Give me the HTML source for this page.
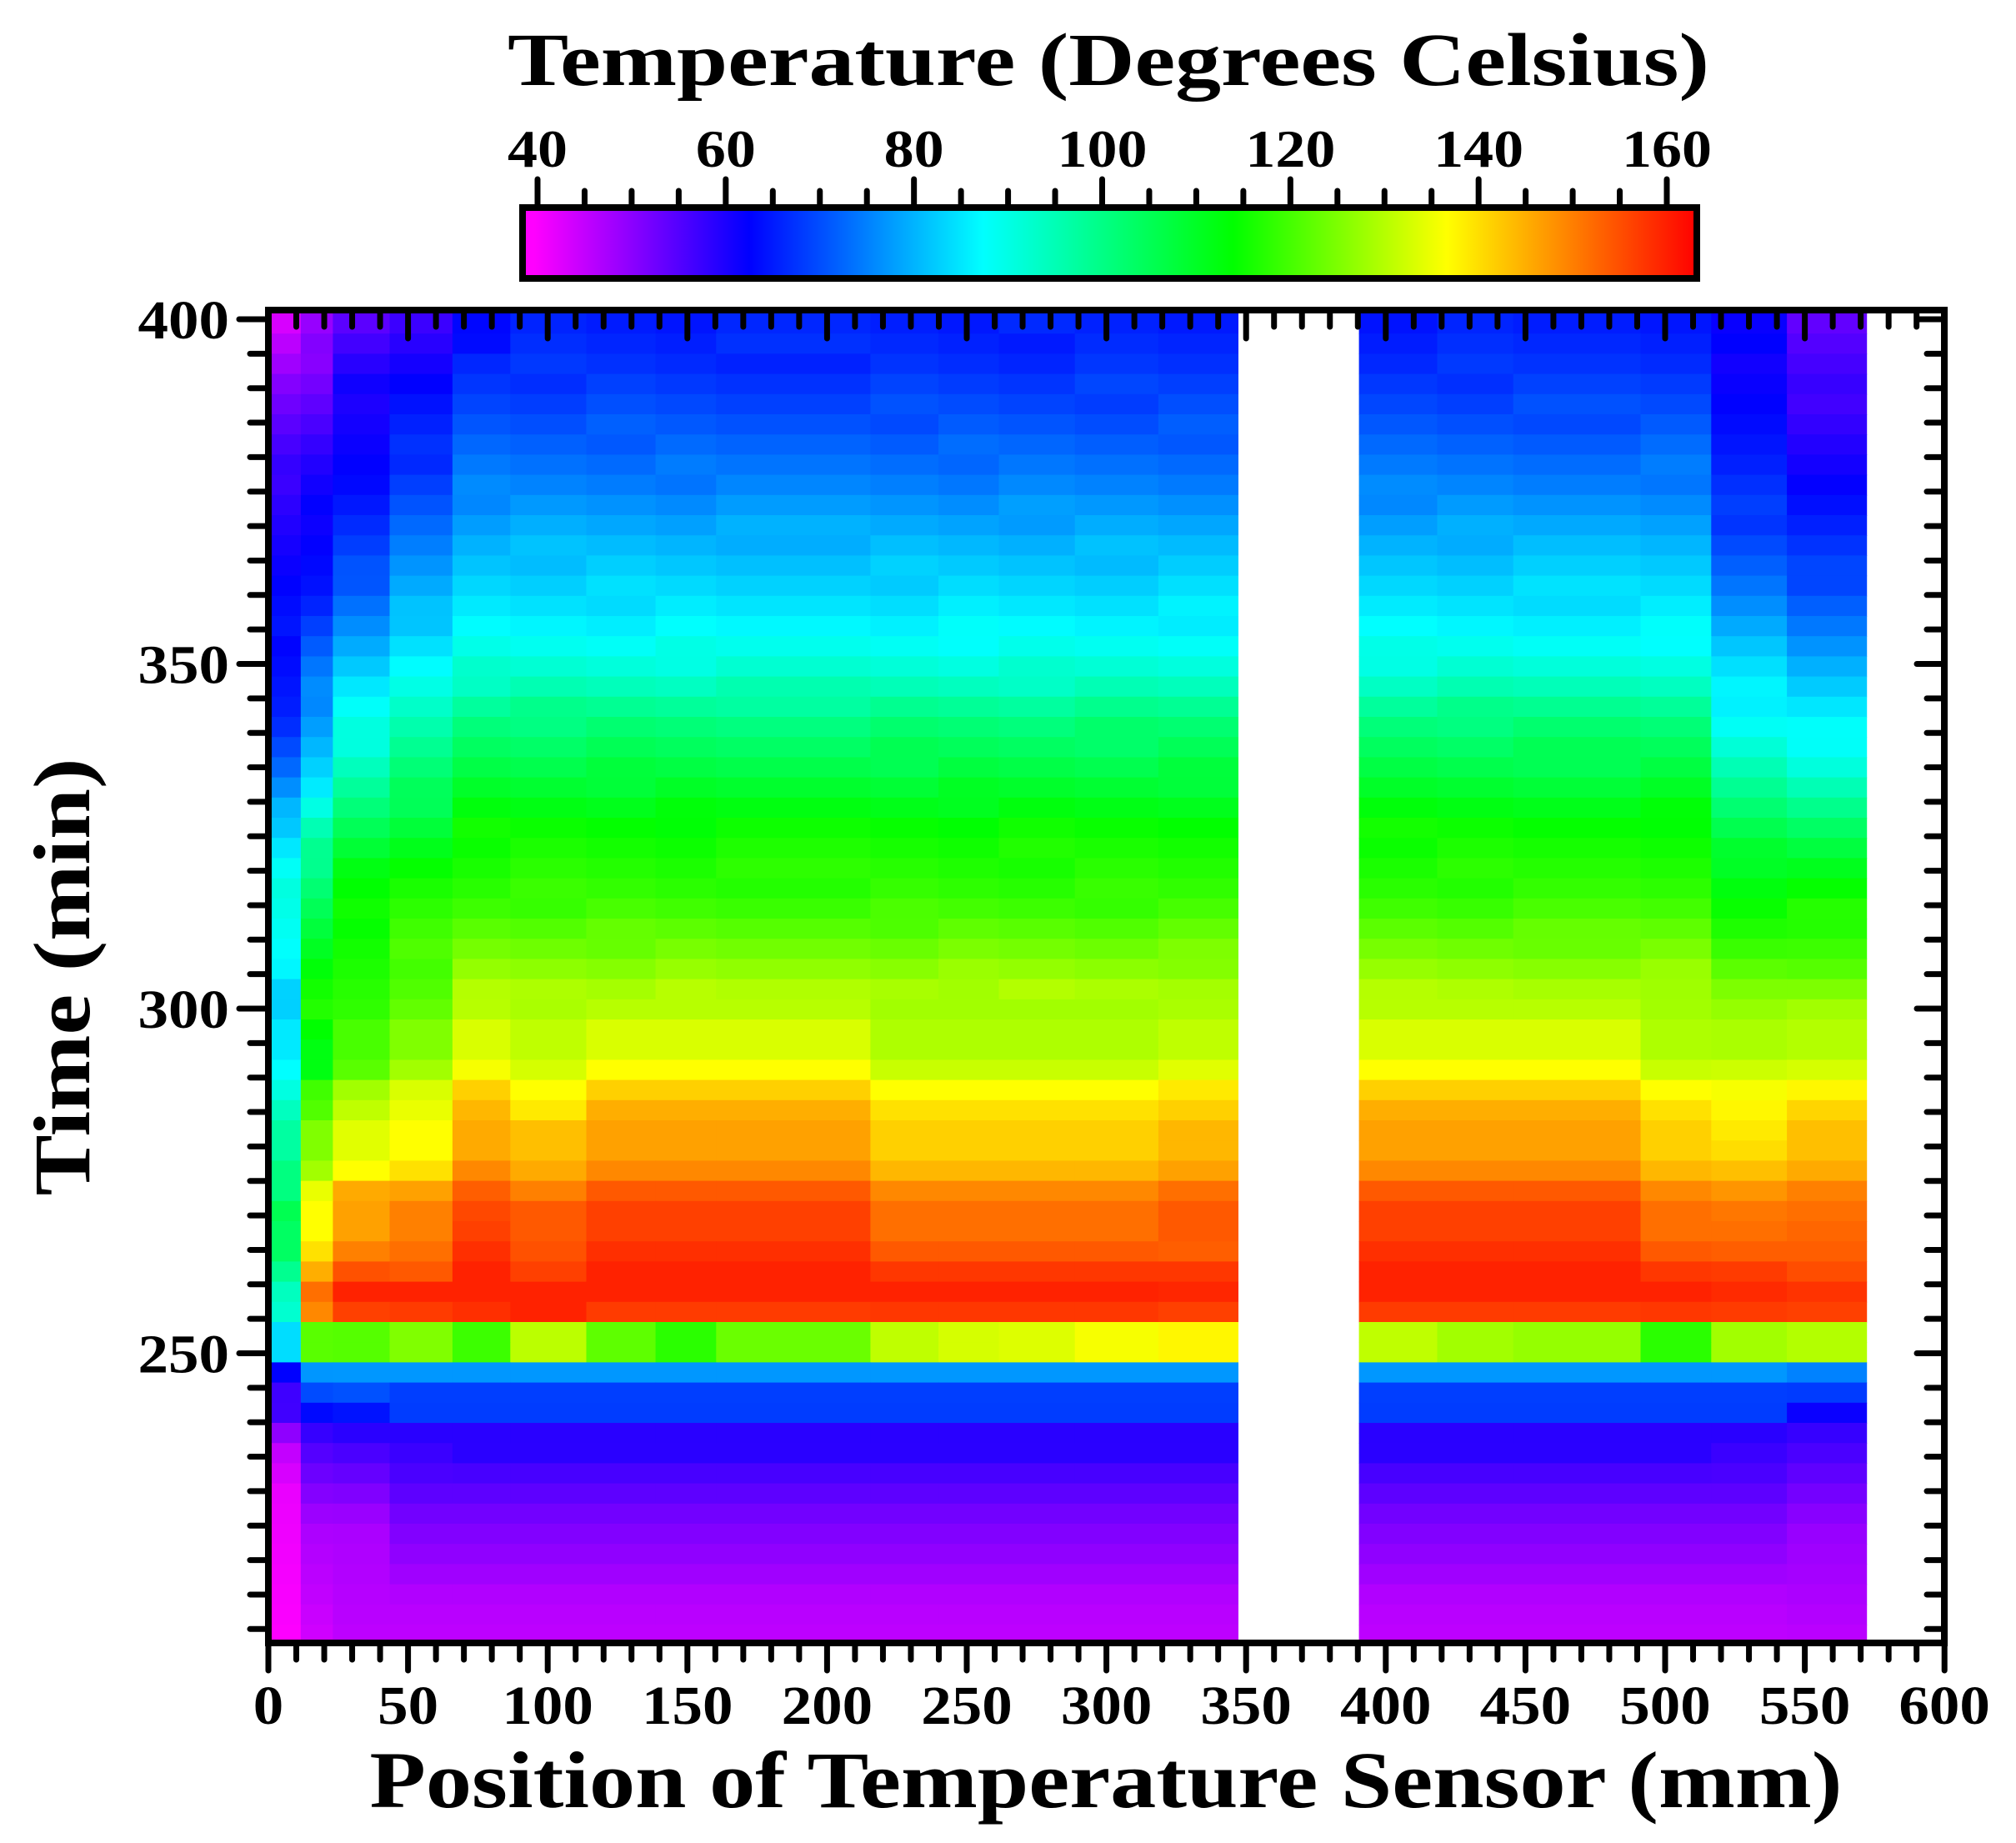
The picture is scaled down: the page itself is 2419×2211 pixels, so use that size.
<!DOCTYPE html>
<html><head><meta charset="utf-8">
<style>
html,body{margin:0;padding:0;background:#fff;}
svg{display:block;}
text{font-family:"Liberation Serif",serif;font-weight:bold;fill:#000;}
</style></head>
<body>
<svg id="s" xmlns="http://www.w3.org/2000/svg" width="2419" height="2211" viewBox="0 0 2419 2211">
<defs>
<linearGradient id="cb" x1="0" x2="1" y1="0" y2="0">
<stop offset="0" stop-color="#ff00ff"/>
<stop offset="0.01" stop-color="#ff00ff"/>
<stop offset="0.193" stop-color="#0000ff"/>
<stop offset="0.392" stop-color="#00ffff"/>
<stop offset="0.605" stop-color="#00ff00"/>
<stop offset="0.787" stop-color="#ffff00"/>
<stop offset="1" stop-color="#ff0000"/>
</linearGradient>
</defs>
<g id="cells"></g>
<g id="ticks" stroke="#000" stroke-width="7" stroke-linecap="round"></g>
<rect x="322" y="372" width="2011" height="1599" fill="none" stroke="#000" stroke-width="8"/>
<rect x="627" y="249" width="1409" height="85" fill="url(#cb)" stroke="#000" stroke-width="8"/>
<text x="1330" y="102" font-size="90" text-anchor="middle" textLength="1442" lengthAdjust="spacingAndGlyphs">Temperature (Degrees Celsius)</text>
<g id="cbl" font-size="64" text-anchor="middle"></g>
<g id="xl" font-size="66" text-anchor="middle"></g>
<g id="yl" font-size="66" text-anchor="end"></g>
<text x="1327" y="2168" font-size="96" text-anchor="middle" textLength="1767" lengthAdjust="spacingAndGlyphs">Position of Temperature Sensor (mm)</text>
<text transform="translate(107,1172) rotate(-90)" x="0" y="0" font-size="96" text-anchor="middle" textLength="525" lengthAdjust="spacingAndGlyphs">Time (min)</text>
</svg>
<script>
(function(){
var NS="http://www.w3.org/2000/svg";
function el(p,n,a,t){var e=document.createElementNS(NS,n);for(var k in a)e.setAttribute(k,a[k]);if(t!==undefined)e.textContent=t;p.appendChild(e);return e;}
var X=function(mm){return 322+mm*3.352;};
var Y=function(t){return 383+(400-t)*8.27;};
var bounds=[[0,11.6],[11.6,23.1],[23.1,43.4],[43.4,65.9],[65.9,86.6],[86.6,113.8],[113.8,138.6],[138.6,160.3],[160.3,215.5],[215.5,239.9],[239.9,261.5],[261.5,288.7],[288.7,318.6],[318.6,347.1],[390.4,418.4],[418.4,445.6],[445.6,491.2],[491.2,516.5],[516.5,543.6],[543.6,572.1]];
var band=[188,99,100,90,106,76,98,110,95,75,70,68,62,58,75,82,85,110,82,78];
var main=[[207,285],[214,283],[220,275],[226,268],[232,258],[235.4,250],[238.4,250],[241.3,226],[244.2,226],[247.2,205],[255,9],[259,8],[262,11],[266,15],[274,18],[277,30],[286,38],[290,48],[292,58],[296,68],[302,78],[308,92],[316,108],[326,118],[334,135],[342,150],[348,168],[354,180],[360,188],[368,198],[376,210],[386,222],[394,230],[401,234]];
var P0=[[207,300],[230,295],[236,285],[238.4,274],[241.3,255],[244.2,255],[247.2,240],[255,169],[300,191],[310,180],[318,172],[326,190],[334,215],[342,232],[360,240],[375,250],[390,270],[401,292]];
var P1=[[207,290],[225,280],[238,255],[243,230],[247.2,205],[255,32],[300,112],[315,140],[325,160],[332,185],[340,200],[350,215],[360,235],[370,240],[380,250],[390,265],[401,280]];
var P2=[[207,285],[225,280],[238,252],[243,228],[247.2,205],[255,15],[300,109],[310,115],[320,125],[330,150],[338,170],[346,185],[355,205],[365,225],[375,238],[390,245],[401,265]];
var P3=[[207,285],[214,283],[220,275],[226,268],[232,258],[238.4,250],[241.3,226],[244.2,226],[247.2,205],[255,10],[300,97],[310,105],[320,118],[330,140],[340,160],[350,180],[360,200],[370,215],[380,230],[390,240],[401,255]];
var P18=[[207,285],[214,283],[220,275],[226,268],[232,258],[238.4,250],[241.3,226],[244.2,226],[247.2,205],[255,10],[300,85],[310,110],[320,125],[330,150],[340,175],[350,190],[360,210],[370,225],[380,235],[390,240],[401,245]];
var P19=[[207,285],[225,275],[240,250],[247.2,210],[255,10],[300,82],[306,100],[315,115],[325,140],[335,170],[345,190],[355,210],[365,228],[375,240],[390,255],[401,265]];
var P4=main.slice(0,main.length-1).concat([[401,245]]);
var prof=[P0,P1,P2,P3,P4,main,main,main,main,main,main,main,main,main,main,main,main,main,P18,P19];
var Cm=[14,8,8,11,15,15,21,32,38,38,41,49,60,69,69,77];
var C9=[13,8,13,21,26,26,32,43,49,49,53,60,73,79,79,82];
var ov=[
[169,165,154,143,143,139,150,150,158,158,165,173,180,185,185,191],
[32,26,41,53,60,60,65,82,90,90,101,105,124,124,120,112],
[15,8,19,30,38,38,40,60,67,67,75,82,99,103,103,109],
[14,8,21,26,30,30,38,53,60,60,65,69,82,90,90,97],
[11,8,8,11,15,17,22,32,40,40,43,49,62,69,69,77],
[8,8,15,19,21,21,30,40,45,45,55,60,70,75,75,80],
Cm,Cm,Cm,C9,C9,C9,C9,
[15,9,13,22,21,21,26,38,43,43,49,55,67,75,75,80],
Cm,Cm,Cm,C9,
[14,10,14,22,26,28,35,45,52,55,58,62,72,80,80,85],
[15,12,18,22,24,26,30,40,45,45,50,58,70,78,78,82]];
function interp(P,t){if(t<=P[0][0])return P[0][1];for(var i=1;i<P.length;i++){if(t<=P[i][0]){var a=P[i-1],b=P[i];return a[1]+(b[1]-a[1])*(t-a[0])/(b[0]-a[0]);}}return P[P.length-1][1];}
var g=document.getElementById('cells');
for(var k=-51;k<=16;k++){
  var y0=1586+24.2*k, y1=y0+24.2;
  var ya=Math.max(y0,372), yb=Math.min(y1,1971);
  if(yb<=ya)continue;
  var yc=(y0+y1)/2; var t=400-(yc-383)/8.27;
  var r=-k-1;
  for(var c=0;c<bounds.length;c++){
    var h;
    if(t>248.7&&t<254.5)h=band[c];
    else if(r>=0&&r<16)h=ov[c][r];
    else{h=interp(prof[c],t);
      if(t>254.5){var n=((c*73+(k+60)*151)%17)/17-0.5;h+=n*6;}
      if(h<0)h=0;}
    var x0=X(bounds[c][0]),x1=X(bounds[c][1]);
    el(g,'rect',{x:x0.toFixed(1),y:ya.toFixed(1),width:(x1-x0+0.6).toFixed(1),height:(yb-ya+0.6).toFixed(1),fill:'hsl('+h.toFixed(1)+',100%,50%)'});
  }
}
var tk=document.getElementById('ticks');
function ln(x1,y1,x2,y2){el(tk,'line',{x1:x1,y1:y1,x2:x2,y2:y2});}
for(var t=210;t<=400;t+=5){var y=Y(t);var maj=(t%50==0);
  ln(322,y,maj?287:300,y); ln(2333,y,maj?2300:2312,y);}
for(var m=0;m<=600;m+=10){var x=X(m);var maj=(m%50==0);
  ln(x,1971,x,maj?2004:1991); ln(x,372,x,maj?406:392);}
var cbx=function(T){return 645+(T-40)*(1355/120);};
for(var T=40;T<=160;T+=5){var x=cbx(T);var maj=(T%20==0);ln(x,245,x,maj?215:229);}
var cbl=document.getElementById('cbl');
for(var T=40;T<=160;T+=20){var s=String(T);el(cbl,'text',{x:cbx(T),y:200,textLength:s.length*36,lengthAdjust:'spacingAndGlyphs'},s);}
var xl=document.getElementById('xl');
for(var m=0;m<=600;m+=50){var s=String(m);el(xl,'text',{x:X(m),y:2068,textLength:s.length*36.5,lengthAdjust:'spacingAndGlyphs'},s);}
var yl=document.getElementById('yl');
for(var t=250;t<=400;t+=50){var s=String(t);el(yl,'text',{x:275,y:Y(t)+23,textLength:s.length*36.5,lengthAdjust:'spacingAndGlyphs'},s);}
})();
</script>
</body></html>
